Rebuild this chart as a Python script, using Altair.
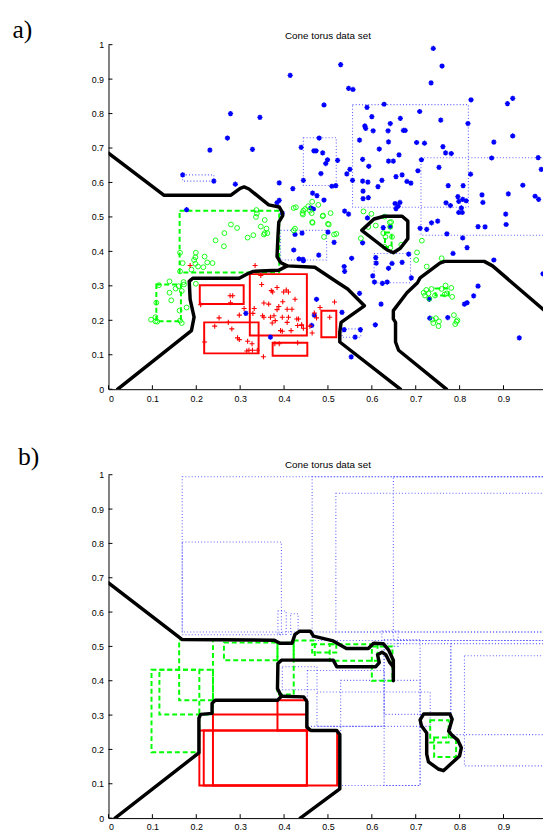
import altair as alt
import pandas as pd

# ---------------- data ----------------
TICKS_X = [0, 0.1, 0.2, 0.3, 0.4, 0.5, 0.6, 0.7, 0.8, 0.9]
TICKS_Y = [0, 0.1, 0.2, 0.3, 0.4, 0.5, 0.6, 0.7, 0.8, 0.9, 1]
TITLE = "Cone torus data set"

# panel a: class 1 (blue stars)
BLUE_PTS = [
    (0.414, 0.911), (0.278, 0.800), (0.345, 0.789), (0.271, 0.729), (0.231, 0.694), (0.328, 0.696),
    (0.439, 0.702), (0.169, 0.622), (0.240, 0.604), (0.289, 0.595), (0.389, 0.599), (0.444, 0.606),
    (0.420, 0.582), (0.465, 0.569), (0.389, 0.548), (0.384, 0.541), (0.178, 0.521), (0.467, 0.523),
    (0.468, 0.692), (0.740, 0.989), (0.529, 0.942), (0.760, 0.938), (0.547, 0.873), (0.557, 0.870),
    (0.735, 0.889), (0.491, 0.825), (0.826, 0.840), (0.909, 0.829), (0.921, 0.844), (0.589, 0.818),
    (0.628, 0.827), (0.600, 0.791), (0.665, 0.786), (0.709, 0.806), (0.642, 0.771), (0.584, 0.764),
    (0.586, 0.757), (0.603, 0.750), (0.637, 0.750), (0.672, 0.751), (0.676, 0.751), (0.757, 0.781),
    (0.819, 0.771), (0.480, 0.729), (0.473, 0.692), (0.488, 0.686), (0.499, 0.666), (0.495, 0.655),
    (0.522, 0.664), (0.484, 0.626), (0.509, 0.589), (0.518, 0.591), (0.572, 0.723), (0.617, 0.697),
    (0.638, 0.718), (0.638, 0.662), (0.649, 0.662), (0.662, 0.680), (0.579, 0.667), (0.593, 0.647),
    (0.550, 0.638), (0.543, 0.625), (0.556, 0.606), (0.579, 0.604), (0.591, 0.601), (0.623, 0.606),
    (0.614, 0.588), (0.580, 0.575), (0.580, 0.553), (0.592, 0.556), (0.655, 0.617), (0.669, 0.622),
    (0.680, 0.603), (0.689, 0.598), (0.705, 0.634), (0.702, 0.716), (0.720, 0.714), (0.713, 0.666),
    (0.753, 0.644), (0.762, 0.704), (0.768, 0.686), (0.781, 0.684), (0.774, 0.591), (0.808, 0.591),
    (0.825, 0.624), (0.796, 0.559), (0.798, 0.545), (0.807, 0.551), (0.815, 0.547), (0.769, 0.541),
    (0.779, 0.533), (0.804, 0.526), (0.798, 0.513), (0.806, 0.513), (0.653, 0.539), (0.664, 0.542),
    (0.660, 0.531), (0.655, 0.524), (0.538, 0.517), (0.547, 0.508), (0.491, 0.549), (0.475, 0.562),
    (0.461, 0.526), (0.590, 0.497), (0.736, 0.483), (0.750, 0.488), (0.873, 0.671), (0.878, 0.717),
    (0.921, 0.735), (0.944, 0.592), (0.979, 0.672), (0.986, 0.638), (0.851, 0.564), (0.853, 0.542),
    (0.911, 0.567), (0.972, 0.560), (0.980, 0.551), (0.905, 0.508), (0.441, 0.453), (0.500, 0.456),
    (0.514, 0.426), (0.479, 0.389), (0.434, 0.378), (0.443, 0.377), (0.537, 0.356), (0.538, 0.342),
    (0.554, 0.380), (0.579, 0.425), (0.602, 0.329), (0.606, 0.311), (0.609, 0.382), (0.610, 0.366),
    (0.624, 0.307), (0.635, 0.311), (0.638, 0.351), (0.646, 0.365), (0.669, 0.368), (0.684, 0.392),
    (0.690, 0.323), (0.626, 0.469), (0.642, 0.471), (0.710, 0.467), (0.725, 0.464), (0.771, 0.451),
    (0.807, 0.439), (0.817, 0.411), (0.842, 0.472), (0.858, 0.471), (0.785, 0.394), (0.878, 0.375),
    (0.906, 0.478), (0.990, 0.335), (0.842, 0.299), (0.832, 0.271), (0.817, 0.251), (0.811, 0.247),
    (0.621, 0.247), (0.572, 0.278), (0.532, 0.223), (0.537, 0.173), (0.574, 0.173), (0.562, 0.151),
    (0.608, 0.187), (0.553, 0.094), (0.731, 0.261), (0.732, 0.206), (0.773, 0.208), (0.936, 0.149),
    (0.474, 0.261), (0.396, 0.511), (0.425, 0.449), (0.422, 0.404), (0.444, 0.373), (0.313, 0.220),
    (0.369, 0.151), (0.463, 0.185), (0.469, 0.215),
]

# panel a: class 2 (green circles)
GREEN_PTS = [
    (0.337, 0.520), (0.338, 0.510), (0.336, 0.500), (0.356, 0.491), (0.347, 0.472), (0.360, 0.466),
    (0.356, 0.453), (0.362, 0.453), (0.354, 0.449), (0.317, 0.440), (0.330, 0.447), (0.279, 0.478),
    (0.293, 0.468), (0.264, 0.453), (0.244, 0.432), (0.263, 0.415), (0.163, 0.396), (0.199, 0.396),
    (0.198, 0.383), (0.195, 0.375), (0.219, 0.385), (0.169, 0.366), (0.198, 0.364), (0.204, 0.356),
    (0.216, 0.354), (0.225, 0.368), (0.237, 0.366), (0.189, 0.347), (0.163, 0.342), (0.199, 0.306),
    (0.115, 0.302), (0.139, 0.313), (0.139, 0.280), (0.153, 0.292), (0.160, 0.299), (0.171, 0.311),
    (0.172, 0.304), (0.167, 0.285), (0.143, 0.258), (0.109, 0.251), (0.162, 0.228), (0.178, 0.237),
    (0.097, 0.202), (0.107, 0.209), (0.107, 0.197), (0.111, 0.196), (0.163, 0.199), (0.167, 0.192),
    (0.422, 0.526), (0.427, 0.528), (0.448, 0.523), (0.463, 0.511), (0.443, 0.507), (0.464, 0.485),
    (0.422, 0.461), (0.442, 0.511), (0.455, 0.531), (0.464, 0.544), (0.459, 0.518), (0.478, 0.535),
    (0.489, 0.504), (0.506, 0.511), (0.500, 0.480), (0.581, 0.516), (0.599, 0.509), (0.644, 0.485),
    (0.629, 0.501), (0.575, 0.438), (0.592, 0.471), (0.609, 0.475), (0.626, 0.453), (0.641, 0.484),
    (0.642, 0.472), (0.631, 0.442), (0.646, 0.442), (0.629, 0.413), (0.642, 0.411), (0.667, 0.419),
    (0.714, 0.431), (0.703, 0.397), (0.701, 0.375), (0.725, 0.356), (0.759, 0.380), (0.465, 0.483),
    (0.488, 0.502), (0.502, 0.478), (0.491, 0.442), (0.514, 0.449), (0.519, 0.451), (0.444, 0.518),
    (0.425, 0.466), (0.718, 0.280), (0.724, 0.288), (0.729, 0.278), (0.736, 0.291), (0.744, 0.272),
    (0.759, 0.291), (0.768, 0.301), (0.771, 0.278), (0.781, 0.294), (0.783, 0.268), (0.766, 0.275),
    (0.731, 0.263), (0.721, 0.272), (0.738, 0.202), (0.746, 0.206), (0.753, 0.197), (0.752, 0.183),
    (0.740, 0.192), (0.787, 0.215), (0.793, 0.196), (0.790, 0.189), (0.795, 0.200),
]

# panel a: class 3 (red pluses)
RED_PTS = [
    (0.186, 0.359), (0.334, 0.359), (0.347, 0.330), (0.349, 0.304), (0.371, 0.286), (0.374, 0.282),
    (0.384, 0.295), (0.399, 0.282), (0.405, 0.288), (0.410, 0.282), (0.277, 0.271), (0.283, 0.271),
    (0.278, 0.251), (0.210, 0.245), (0.354, 0.250), (0.365, 0.247), (0.397, 0.254), (0.388, 0.240),
    (0.407, 0.232), (0.418, 0.232), (0.332, 0.234), (0.309, 0.234), (0.298, 0.215), (0.329, 0.220),
    (0.351, 0.213), (0.354, 0.209), (0.369, 0.209), (0.377, 0.213), (0.384, 0.231), (0.380, 0.199),
    (0.373, 0.192), (0.396, 0.209), (0.410, 0.209), (0.429, 0.204), (0.407, 0.194), (0.431, 0.185),
    (0.440, 0.187), (0.444, 0.177), (0.392, 0.170), (0.396, 0.168), (0.416, 0.170), (0.464, 0.163),
    (0.252, 0.207), (0.273, 0.194), (0.242, 0.183), (0.281, 0.175), (0.294, 0.149), (0.298, 0.144),
    (0.219, 0.137), (0.317, 0.139), (0.327, 0.132), (0.320, 0.113), (0.315, 0.111), (0.328, 0.113),
    (0.339, 0.113), (0.353, 0.094), (0.379, 0.132), (0.389, 0.132), (0.431, 0.135), (0.425, 0.261),
    (0.515, 0.253), (0.482, 0.237), (0.469, 0.221), (0.474, 0.207), (0.433, 0.204), (0.440, 0.185),
    (0.459, 0.183), (0.504, 0.209),
]

# boxes (x1, x2, y1, y2)
A_BLUE_BOXES = [
    (0.169, 0.240, 0.604, 0.622), (0.444, 0.519, 0.591, 0.730), (0.556, 0.820, 0.528, 0.826),
    (0.712, 1.000, 0.447, 0.672), (0.392, 0.497, 0.375, 0.461), (0.605, 0.688, 0.309, 0.394),
    (0.532, 0.575, 0.151, 0.175),
]
A_GREEN_BOXES = [
    (0.162, 0.389, 0.339, 0.518), (0.109, 0.165, 0.197, 0.304),
    (0.630, 0.645, 0.413, 0.455), (0.745, 0.775, 0.272, 0.292),
]
A_RED_BOXES = [
    (0.208, 0.308, 0.247, 0.302), (0.218, 0.342, 0.104, 0.194), (0.322, 0.452, 0.156, 0.334),
    (0.374, 0.453, 0.097, 0.135), (0.485, 0.519, 0.151, 0.228),
]
B_BLUE_BOXES = [
    (0.168, 1.000, 0.542, 0.994), (0.168, 0.394, 0.534, 0.804), (0.464, 1.000, 0.517, 0.994),
    (0.518, 1.000, 0.542, 0.946), (0.649, 1.000, 0.517, 0.994), (0.811, 1.000, 0.152, 0.473),
    (0.529, 0.710, 0.095, 0.401), (0.475, 0.733, 0.267, 0.367), (0.453, 0.628, 0.267, 0.430),
    (0.628, 0.780, 0.302, 0.508), (0.780, 1.000, 0.243, 0.508), (0.396, 0.475, 0.374, 0.441),
    (0.386, 0.405, 0.535, 0.603), (0.415, 0.432, 0.535, 0.595), (0.623, 0.660, 0.500, 0.545),
    (0.628, 0.710, 0.095, 0.520),
]
B_GREEN_BOXES = [
    (0.098, 0.207, 0.192, 0.432), (0.116, 0.238, 0.302, 0.432), (0.161, 0.238, 0.343, 0.520),
    (0.263, 0.385, 0.460, 0.511), (0.422, 0.470, 0.460, 0.517), (0.464, 0.519, 0.482, 0.506),
    (0.504, 0.613, 0.458, 0.506), (0.600, 0.647, 0.400, 0.500), (0.385, 0.422, 0.360, 0.511),
    (0.733, 0.775, 0.220, 0.285), (0.742, 0.792, 0.178, 0.235),
]
B_RED_BOXES = [
    (0.238, 0.452, 0.095, 0.302), (0.207, 0.521, 0.095, 0.255), (0.217, 0.452, 0.095, 0.255),
    (0.385, 0.452, 0.255, 0.343),
]

# decision boundaries (polylines)
A_BOUNDARIES = [
    [(0, 0.685), (0.126, 0.563), (0.279, 0.563), (0.300, 0.583), (0.309, 0.587), (0.320, 0.581),
     (0.365, 0.535), (0.389, 0.529), (0.396, 0.513), (0.397, 0.504), (0.388, 0.485), (0.386, 0.442),
     (0.384, 0.385), (0.392, 0.368), (0.407, 0.358), (0.470, 0.354), (0.523, 0.309), (0.545, 0.291),
     (0.583, 0.242), (0.530, 0.194), (0.527, 0.166), (0.527, 0.137), (0.665, 0)],
    [(0.021, 0), (0.189, 0.170), (0.195, 0.209), (0.186, 0.261), (0.184, 0.313), (0.192, 0.322),
     (0.298, 0.322), (0.317, 0.335), (0.330, 0.342), (0.388, 0.345), (0.407, 0.358)],
    [(0.577, 0.461), (0.605, 0.494), (0.628, 0.502), (0.669, 0.502), (0.682, 0.488), (0.682, 0.437),
     (0.665, 0.409), (0.649, 0.396), (0.635, 0.404), (0.577, 0.461)],
    [(0.770, 0), (0.661, 0.113), (0.654, 0.137), (0.654, 0.194), (0.649, 0.204), (0.649, 0.228),
     (0.680, 0.280), (0.704, 0.309), (0.710, 0.323), (0.755, 0.366), (0.766, 0.371), (0.856, 0.371),
     (0.875, 0.358), (1.0, 0.221)],
]
B_BOUNDARIES = [
    [(0, 0.685), (0.168, 0.520), (0.378, 0.518), (0.390, 0.509), (0.418, 0.509), (0.425, 0.535),
     (0.435, 0.544), (0.460, 0.544), (0.467, 0.530), (0.512, 0.516), (0.542, 0.494), (0.592, 0.494),
     (0.604, 0.509), (0.626, 0.508), (0.638, 0.490), (0.649, 0.460), (0.649, 0.400)],
    [(0.649, 0.440), (0.640, 0.455), (0.632, 0.476), (0.623, 0.483), (0.613, 0.476), (0.617, 0.453),
     (0.609, 0.441), (0.520, 0.441), (0.512, 0.460), (0.394, 0.460), (0.386, 0.450), (0.385, 0.377),
     (0.394, 0.355), (0.385, 0.343), (0.243, 0.343), (0.236, 0.334), (0.236, 0.305), (0.210, 0.302),
     (0.206, 0.291), (0.206, 0.190), (0.015, 0)],
    [(0.394, 0.355), (0.445, 0.353), (0.452, 0.339), (0.452, 0.265), (0.461, 0.255), (0.520, 0.255),
     (0.527, 0.243), (0.527, 0.085), (0.437, 0)],
    [(0.710, 0.286), (0.718, 0.303), (0.778, 0.303), (0.783, 0.288), (0.775, 0.253), (0.783, 0.241),
     (0.796, 0.227), (0.804, 0.205), (0.800, 0.181), (0.763, 0.138), (0.751, 0.143), (0.729, 0.164),
     (0.725, 0.186), (0.725, 0.248), (0.713, 0.269), (0.710, 0.286)],
]

# ---------------- layout constants ----------------
XMAX = 0.99
W = 441
HA = 349.7
HB = 348.5
PLOT_LEFT = 109.5   # page x of the y axis
TOP_A = 38.3        # page y of panel a top
TOP_B = 474.5       # page y of panel b top

STAR = "M-1,0L1,0M0,-1L0,1M-0.7,-0.7L0.7,0.7M-0.7,0.7L0.7,-0.7"
PLUS = "M-1,0L1,0M0,-1L0,1"

xs = alt.Scale(domain=[0, XMAX], nice=False, zero=False)
ys = alt.Scale(domain=[0, 1], nice=False, zero=False)
xaxis = alt.Axis(values=TICKS_X, format="~g", title=None, grid=False, ticks=False,
                 tickSize=0, labelPadding=5, domainColor="black", domainWidth=1)
yaxis = alt.Axis(values=TICKS_Y, format="~g", title=None, grid=False, ticks=False,
                 tickSize=0, labelPadding=5, domainColor="black", domainWidth=1)


def X(f):
    return alt.X(f, type="quantitative", scale=xs, axis=xaxis)


def Y(f):
    return alt.Y(f, type="quantitative", scale=ys, axis=yaxis)


def boxes(rects, color, dash, width, opacity=1.0):
    df = pd.DataFrame(rects, columns=["x1", "x2", "y1", "y2"])
    kw = dict(fillOpacity=0, stroke=color, strokeWidth=width, strokeOpacity=opacity, clip=True)
    if dash:
        kw["strokeDash"] = dash
    return alt.Chart(df).mark_rect(**kw).encode(
        x=X("x1"), x2="x2", y=Y("y1"), y2="y2")


def lines(polys):
    rows = []
    for i, pts in enumerate(polys):
        for j, (x, y) in enumerate(pts):
            rows.append({"id": i, "o": j, "x": x, "y": y})
    return alt.Chart(pd.DataFrame(rows)).mark_line(
        color="black", strokeWidth=3.5, strokeJoin="round", strokeCap="round", clip=True
    ).encode(x=X("x"), y=Y("y"), detail="id:N", order="o:Q")


def points(pts, shape, color, size, sw):
    df = pd.DataFrame(pts, columns=["x", "y"])
    return alt.Chart(df).mark_point(shape=shape, filled=False, color=color, size=size,
                                    strokeWidth=sw, opacity=1, clip=True).encode(
        x=X("x"), y=Y("y"))


def ticks(H):
    tx = alt.Chart(pd.DataFrame({"v": TICKS_X})).mark_rule(color="black", strokeWidth=1).encode(
        x=X("v"), y=alt.value(H), y2=alt.value(H - 4))
    ty = alt.Chart(pd.DataFrame({"v": TICKS_Y})).mark_rule(color="black", strokeWidth=1).encode(
        y=Y("v"), x=alt.value(0), x2=alt.value(4))
    return [tx, ty]


def text(t, x, y, font, size, align, baseline):
    return alt.Chart(pd.DataFrame({"t": [t]})).mark_text(
        text=t, font=font, fontSize=size, align=align, baseline=baseline, color="black"
    ).encode(x=alt.value(x), y=alt.value(y))


one = pd.DataFrame({"a": [0]})
anchor = alt.Chart(one).mark_rect(opacity=0).encode(
    x=alt.value(-(PLOT_LEFT - 8)), x2=alt.value(-(PLOT_LEFT - 8) + 1),
    y=alt.value(-(TOP_A - 8)), y2=alt.value(-(TOP_A - 8) + 1))

xmid = 0.5 / XMAX * W

panel_a = alt.layer(
    anchor,
    boxes(A_BLUE_BOXES, "#3a3aff", [1, 2.2], 1.1, 0.8),
    boxes(A_GREEN_BOXES, "#00ff00", [5, 3], 2),
    boxes(A_RED_BOXES, "#ff0000", None, 2),
    points(BLUE_PTS, STAR, "#0000ff", 28, 1.4),
    points(GREEN_PTS, "circle", "#00ff00", 24, 0.9),
    points(RED_PTS, PLUS, "#ff0000", 26, 1.1),
    lines(A_BOUNDARIES),
    *ticks(HA),
    text(TITLE, xmid, -8.5, "Liberation Sans", 10, "center", "middle"),
    text("a)", 12 - PLOT_LEFT, 31.5 - TOP_A, "Liberation Serif", 26, "left", "alphabetic"),
).properties(width=W, height=HA)

panel_b = alt.layer(
    boxes(B_BLUE_BOXES, "#3a3aff", [1, 2.2], 1.1, 0.8),
    boxes(B_GREEN_BOXES, "#00ff00", [5, 3], 2),
    boxes(B_RED_BOXES, "#ff0000", None, 2),
    lines(B_BOUNDARIES),
    *ticks(HB),
    text(TITLE, xmid, -9.5, "Liberation Sans", 10, "center", "middle"),
    text("b)", 17.6 - PLOT_LEFT, 464.5 - TOP_B, "Liberation Serif", 26, "left", "alphabetic"),
).properties(width=W, height=HB)

chart = alt.vconcat(panel_a, panel_b, spacing=TOP_B - TOP_A - HA, bounds="flush").properties(
    padding=0, background="white"
).configure_view(stroke=None).configure_axis(
    labelFont="Liberation Sans", labelFontSize=9, labelColor="black"
)

chart.save("out.html", embed_options={"renderer": "svg", "actions": False})
